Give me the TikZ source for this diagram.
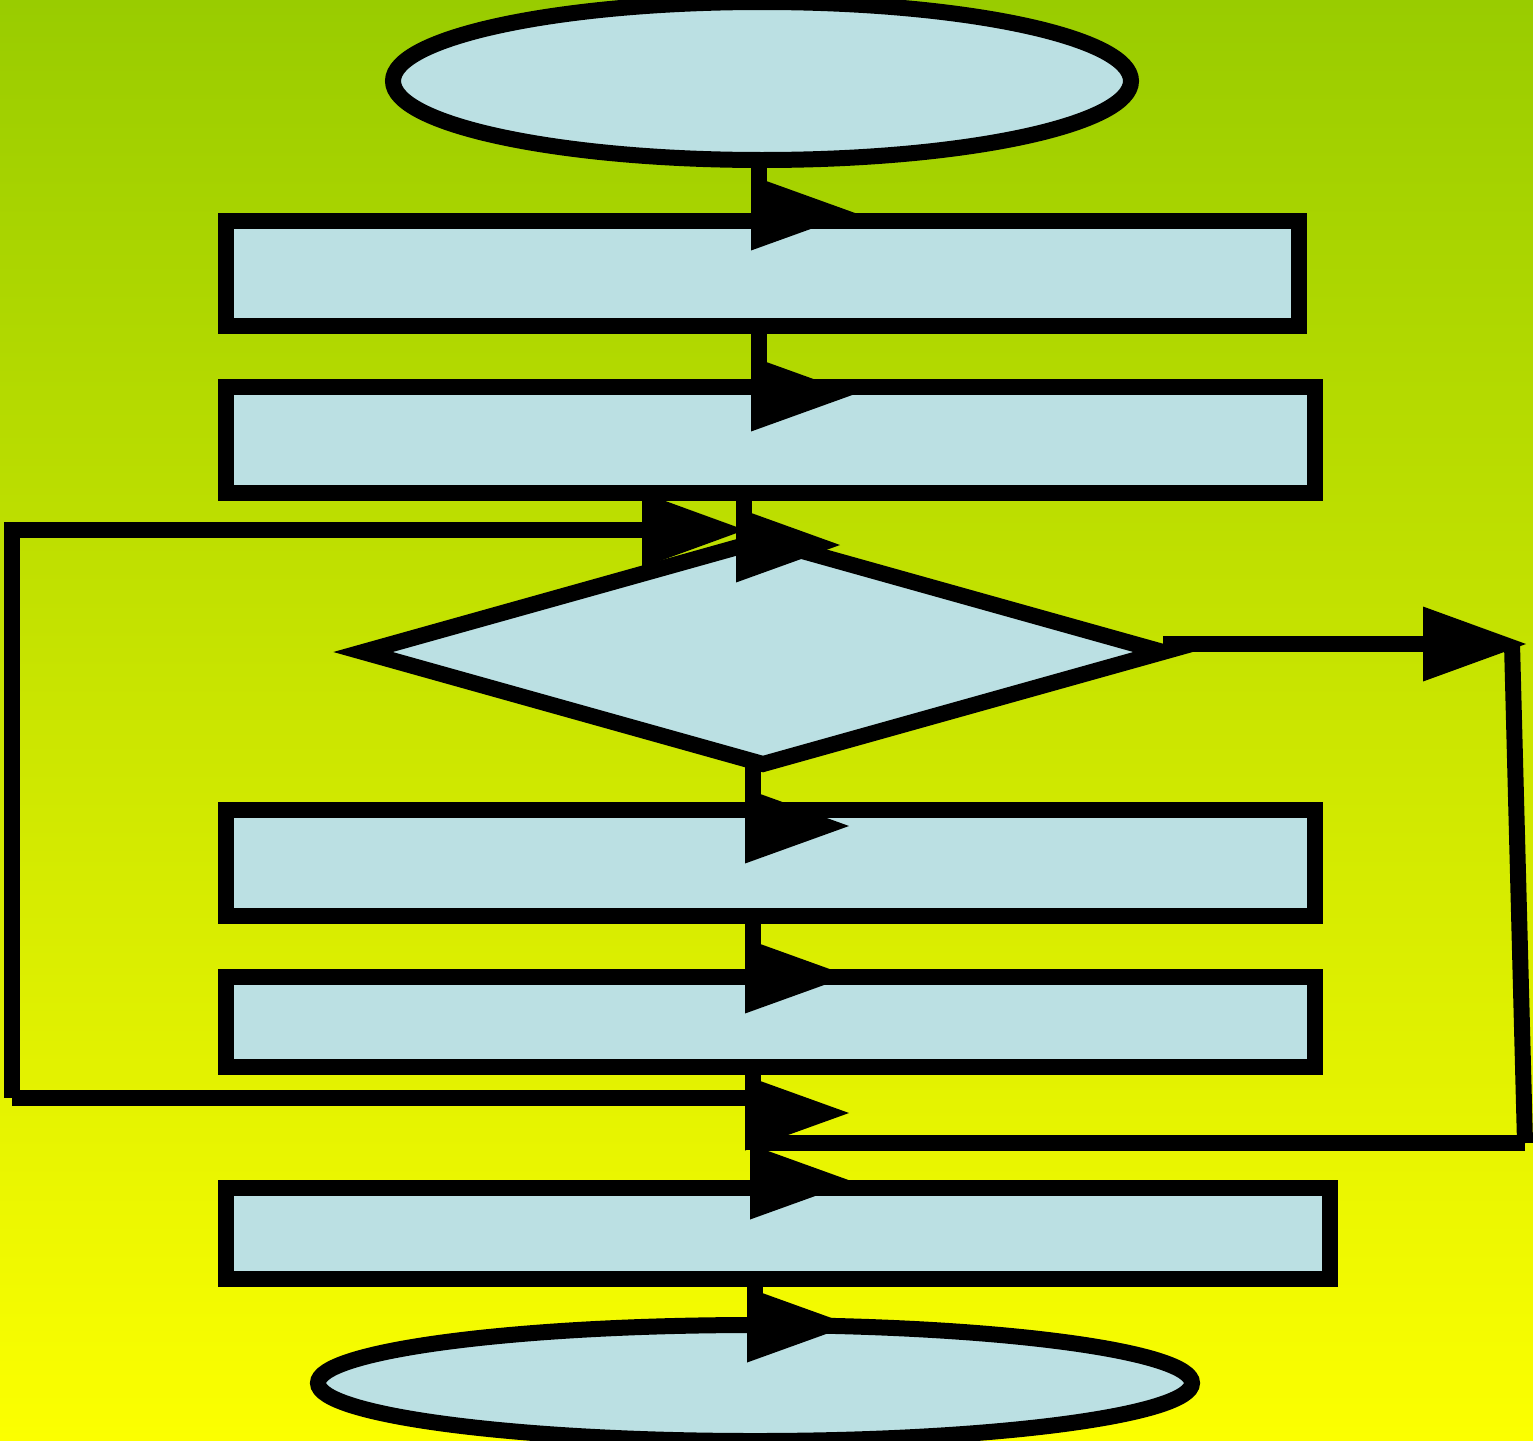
\documentclass[tikz,border=0pt]{standalone}
\usetikzlibrary{shapes.geometric}
\definecolor{bgtop}{RGB}{153,204,0}
\definecolor{bgbot}{RGB}{252,255,0}
\definecolor{shapefill}{RGB}{187,224,227}
\tikzset{
  shp/.style={draw=black, fill=shapefill, line width=16pt, inner sep=0pt, outer sep=0pt},
  rbox/.style={shp, rectangle},
  oval/.style={shp, ellipse},
  dia/.style={shp, diamond},
  conn/.style={draw=black, line width=16pt},
  vhead/.pic={\fill[black] (-8,-37.5) -- (96,0) -- (-8,37.5) -- cycle;},
  hhead/.pic={\fill[black] (-103,-37.5) -- (0,0) -- (-103,37.5) -- cycle;}
}
\begin{document}
\begin{tikzpicture}[x=1pt, y=-1pt]
\useasboundingbox (0,0) rectangle (1533,1440);
\shade[top color=bgtop, bottom color=bgbot] (0,0) rectangle (1533,1440);

% shapes
\node[oval, minimum width=738pt, minimum height=158pt] (start) at (762,81) {};
\node[rbox, minimum width=1073pt, minimum height=105pt] (r1) at (762.5,273.5) {};
\node[rbox, minimum width=1089pt, minimum height=105.5pt] (r2) at (770.5,439.75) {};
\node[dia, minimum width=800pt, minimum height=224pt] (d) at (763,652) {};
\node[rbox, minimum width=1089pt, minimum height=106pt] (r3) at (770.5,863) {};
\node[rbox, minimum width=1089pt, minimum height=90pt] (r4) at (770.5,1022) {};
\node[rbox, minimum width=1104pt, minimum height=91pt] (r5) at (778,1233.5) {};
\node[oval, minimum width=874pt, minimum height=116pt] (stop) at (755,1383) {};

% arrowhead points and free ends
\coordinate (k1) at (759,213);
\coordinate (k2) at (759,394);
\coordinate (k3) at (744,545);
\coordinate (kl) at (745,530);
\coordinate (lt) at (4,530);
\coordinate (lb) at (12,1098);
\coordinate (k4) at (753,826);
\coordinate (k5) at (753,976);
\coordinate (k6) at (753,1113);
\coordinate (k6e) at (753,1150);
\coordinate (rt) at (1526,644);
\coordinate (rtv) at (1512,644);
\coordinate (rb) at (1525,1143);
\coordinate (k7) at (758,1182);
\coordinate (k8) at (755,1325);

% connectors
\draw[conn] (start.south -| k1) -- (r1.north -| k1);
\draw[conn] (r1.south -| k2) -- (r2.north -| k2);
\draw[conn] (r2.south -| k3) -- (k3);
\draw[conn, shorten >=85pt] (lt) -- (kl);
\draw[conn] (lt -| lb) -- (lb);
\draw[conn] (lb) -- (lb -| k6);
\draw[conn] (d.south -| k4) -- (r3.north -| k4);
\draw[conn] (r3.south -| k5) -- (r4.north -| k5);
\draw[conn] (r4.south -| k6) -- (k6e);
\draw[conn, shorten >=90pt] (d.east |- rt) -- (rt);
\draw[conn] (rtv) -- (rb);
\draw[conn] (rb) -- (rb -| k7);
\draw[conn] (rb -| k7) -- (r5.north -| k7);
\draw[conn] (r5.south -| k8) -- (stop.north -| k8);

% arrowheads
\pic at (k1) {vhead};
\pic at (k2) {vhead};
\pic at (kl) {hhead};
\pic at (k3) {vhead};
\pic at (rt) {hhead};
\pic at (k4) {vhead};
\pic at (k5) {vhead};
\pic at (k6) {vhead};
\pic at (k7) {vhead};
\pic at (k8) {vhead};
\end{tikzpicture}
\end{document}
